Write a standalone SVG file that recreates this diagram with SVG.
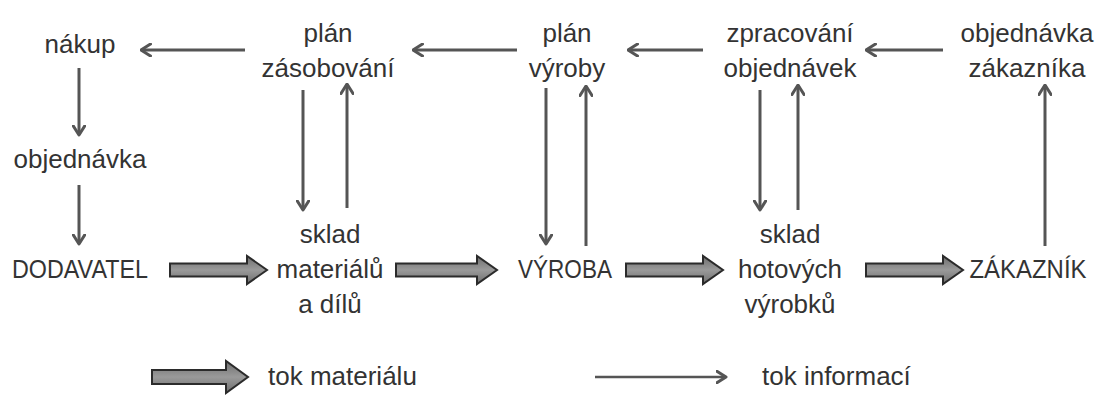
<svg xmlns="http://www.w3.org/2000/svg" width="1098" height="403" viewBox="0 0 1098 403">
  <defs>
    <style>
      .t { font-family: "Liberation Sans", Arial, sans-serif; font-size: 26px; fill: #333; text-anchor: middle; }
      .tl { font-family: "Liberation Sans", Arial, sans-serif; font-size: 26px; fill: #333; text-anchor: start; }
      .info { stroke: #555; stroke-width: 3; fill: none; marker-end: url(#chev); }
      .mat { fill: url(#matFill); stroke: #2b2b2b; stroke-width: 2; stroke-linejoin: miter; }
    </style>
    <marker id="chev" viewBox="0 0 12 14" refX="10.5" refY="7" markerWidth="12" markerHeight="14" markerUnits="userSpaceOnUse" orient="auto">
      <path d="M1,1 L10.5,7 L1,13" fill="none" stroke="#555" stroke-width="3" stroke-linecap="round" stroke-linejoin="round"/>
    </marker>
    <linearGradient id="matFill" x1="0" y1="0" x2="0" y2="1">
      <stop offset="0" stop-color="#6e6e6e"/>
      <stop offset="0.5" stop-color="#9a9a9a"/>
      <stop offset="1" stop-color="#6e6e6e"/>
    </linearGradient>
  </defs>
  <rect width="1098" height="403" fill="#fff"/>

  <!-- information flow (thin) and material flow (thick) -->
  <g id="connectors">
    <!-- top row, right to left -->
    <line class="info" x1="245" y1="50" x2="141" y2="50"/>
    <line class="info" x1="517" y1="50" x2="413" y2="50"/>
    <line class="info" x1="703" y1="50" x2="628" y2="50"/>
    <line class="info" x1="943" y1="50" x2="866" y2="50"/>
    <!-- left column -->
    <line class="info" x1="79" y1="68" x2="79" y2="135"/>
    <line class="info" x1="79" y1="185" x2="79" y2="244"/>
    <!-- plán zásobování <-> sklad materiálů -->
    <line class="info" x1="303" y1="90" x2="303" y2="210"/>
    <line class="info" x1="347" y1="208" x2="347" y2="84"/>
    <!-- plán výroby <-> výroba -->
    <line class="info" x1="546" y1="88" x2="546" y2="244"/>
    <line class="info" x1="586" y1="246" x2="586" y2="86"/>
    <!-- zpracování objednávek <-> sklad hotových výrobků -->
    <line class="info" x1="760" y1="90" x2="760" y2="210"/>
    <line class="info" x1="798" y1="210" x2="798" y2="85"/>
    <!-- zákazník -> objednávka zákazníka -->
    <line class="info" x1="1045" y1="246" x2="1045" y2="85"/>

    <!-- material flow -->
    <path class="mat" d="M170,263.5 H247 V256 L267,270 L247,284 V276.5 H170 Z"/>
    <path class="mat" d="M396,263.5 H477 V256 L497,270 L477,284 V276.5 H396 Z"/>
    <path class="mat" d="M626,263.5 H703 V256 L723,270 L703,284 V276.5 H626 Z"/>
    <path class="mat" d="M866,263.5 H943 V256 L963,270 L943,284 V276.5 H866 Z"/>
  </g>

  <g id="nakup"><text class="t" x="80" y="53">nákup</text></g>
  <g id="objednavka"><text class="t" x="80" y="168">objednávka</text></g>
  <g id="dodavatel"><text class="t" x="80" y="278" textLength="136" lengthAdjust="spacingAndGlyphs">DODAVATEL</text></g>

  <g id="plan-zasobovani">
    <text class="t" x="328" y="42">plán</text>
    <text class="t" x="328" y="77">zásobování</text>
  </g>
  <g id="sklad-materialu">
    <text class="t" x="330" y="243">sklad</text>
    <text class="t" x="330" y="278">materiálů</text>
    <text class="t" x="330" y="313">a dílů</text>
  </g>

  <g id="plan-vyroby">
    <text class="t" x="567" y="42">plán</text>
    <text class="t" x="567" y="77">výroby</text>
  </g>
  <g id="vyroba"><text class="t" x="565" y="278" textLength="94" lengthAdjust="spacingAndGlyphs">VÝROBA</text></g>

  <g id="zpracovani-objednavek">
    <text class="t" x="790" y="42">zpracování</text>
    <text class="t" x="790" y="77">objednávek</text>
  </g>
  <g id="sklad-hotovych">
    <text class="t" x="790" y="243">sklad</text>
    <text class="t" x="790" y="278">hotových</text>
    <text class="t" x="790" y="313">výrobků</text>
  </g>

  <g id="objednavka-zakaznika">
    <text class="t" x="1027" y="42">objednávka</text>
    <text class="t" x="1027" y="77">zákazníka</text>
  </g>
  <g id="zakaznik"><text class="t" x="1028" y="278" textLength="117" lengthAdjust="spacingAndGlyphs">ZÁKAZNÍK</text></g>

  <!-- legend -->
  <g id="legend">
    <path class="mat" d="M152,370 H226 V361 L248,377 L226,393 V384 H152 Z"/>
    <text class="tl" x="268" y="385">tok materiálu</text>
    <line class="info" x1="595" y1="377" x2="726" y2="377" style="stroke-width:2.5"/>
    <text class="tl" x="762" y="385">tok informací</text>
  </g>
</svg>
